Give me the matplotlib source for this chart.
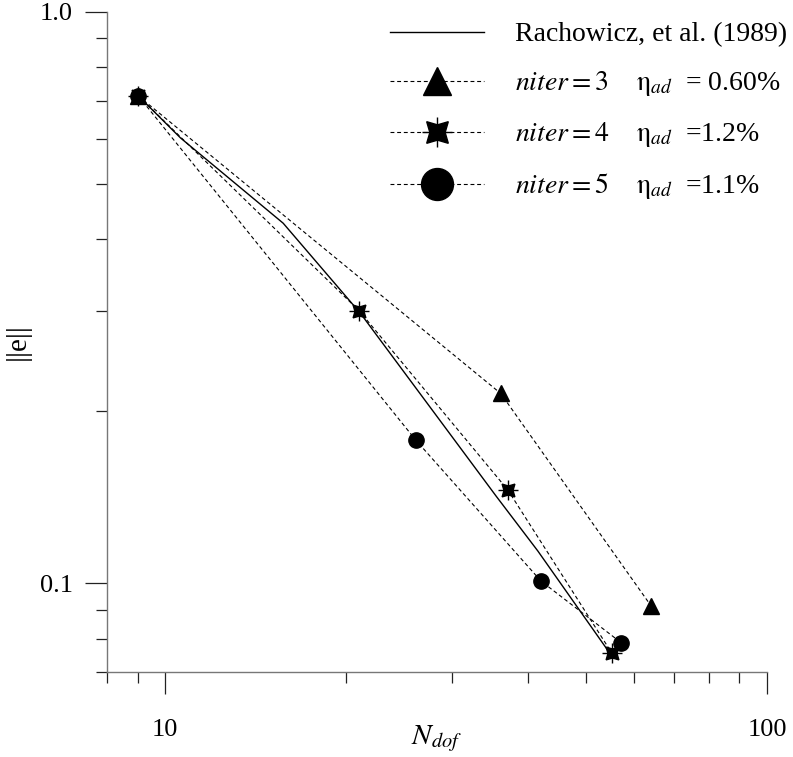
import matplotlib
matplotlib.use("Agg")
import matplotlib.pyplot as plt
from matplotlib.lines import Line2D
from matplotlib.ticker import FixedLocator, NullFormatter

plt.rcParams['font.family'] = ['Liberation Serif', 'DejaVu Serif']
plt.rcParams['mathtext.fontset'] = 'stix'

# ---- data ----
rach_x = [9.02, 10.6, 15.7, 21.1, 35.5, 41.6, 54.8]
rach_y = [0.713, 0.602, 0.427, 0.297, 0.142, 0.114, 0.0755]

n3_x = [9.02, 36.1, 64.2]
n3_y = [0.713, 0.215, 0.0913]

n4_x = [9.02, 21.0, 37.1, 55.2]
n4_y = [0.713, 0.300, 0.1457, 0.0756]

n5_x = [9.02, 26.1, 42.1, 57.2]
n5_y = [0.713, 0.178, 0.101, 0.0788]

x_major = [10, 100]
x_major_labels = ["10", "100"]
x_minor = [8, 9, 20, 30, 40, 50, 60, 70, 80, 90]
y_major = [0.1, 1.0]
y_major_labels = ["0.1", "1.0"]
y_minor = [0.07, 0.08, 0.09, 0.2, 0.3, 0.4, 0.5, 0.6, 0.7, 0.8, 0.9]

labels = ["Rachowicz, et al. (1989)",
          r"$niter = 3$    $\mathrm{\eta}_{ad}$  = 0.60%",
          r"$niter = 4$    $\mathrm{\eta}_{ad}$  =1.2%",
          r"$niter = 5$    $\mathrm{\eta}_{ad}$  =1.1%"]

fig = plt.figure(figsize=(7.93, 7.57), dpi=100)
ax = fig.add_axes([107/793, 1-672/757, 660/793, 660/757])

dash = (0, (3.5, 2.5))
lwd = 0.8
ax.plot(rach_x, rach_y, color='k', lw=1.0, zorder=2)
ax.plot(n3_x, n3_y, color='k', ls=dash, lw=lwd, marker='^', ms=11.5, zorder=3)
ax.plot(n5_x, n5_y, color='k', ls=dash, lw=lwd, marker='o', ms=11, zorder=3)
ax.plot(n4_x, n4_y, color='k', ls=dash, lw=lwd, marker=(4, 1, 45), ms=13, zorder=4)
ax.plot(n4_x, n4_y, color='k', ls='none', marker='+', ms=15, mew=1.0, zorder=4)

ax.set_xscale('log')
ax.set_yscale('log')
ax.set_xlim(8, 100)
ax.set_ylim(0.07, 1.0)

ax.xaxis.set_major_locator(FixedLocator(x_major))
ax.xaxis.set_minor_locator(FixedLocator(x_minor))
ax.set_xticklabels(x_major_labels)
ax.xaxis.set_minor_formatter(NullFormatter())
ax.yaxis.set_major_locator(FixedLocator(y_major))
ax.yaxis.set_minor_locator(FixedLocator(y_minor))
ax.set_yticklabels(y_major_labels)
ax.yaxis.set_minor_formatter(NullFormatter())

ax.tick_params(which='major', length=15.5, width=0.9, color='#222222',
               labelsize=19, pad=9)
ax.tick_params(which='minor', length=8, width=0.9, color='#222222')
ax.tick_params(axis='x', which='major', pad=18)

for s in ['top', 'right']:
    ax.spines[s].set_visible(False)
for s in ['left', 'bottom']:
    ax.spines[s].set_color('#777777')
    ax.spines[s].set_linewidth(1.0)

ax.set_xlabel(r"$N_{dof}$", fontsize=21)
ax.set_ylabel("||e||", fontsize=21)
ax.xaxis.set_label_coords(0.5, -0.078)
ax.yaxis.set_label_coords(-0.115, 0.5)

h0 = Line2D([], [], color='k', lw=1.0)
h3 = Line2D([], [], color='k', ls=dash, lw=lwd, marker='^', ms=20)
h4a = Line2D([], [], color='k', ls=dash, lw=lwd, marker=(4, 1, 45), ms=22)
h4b = Line2D([], [], color='k', ls='none', marker='+', ms=21, mew=1.0)
h5 = Line2D([], [], color='k', ls=dash, lw=lwd, marker='o', ms=23)

leg = ax.legend([h0, h3, (h4a, h4b), h5], labels, loc='upper left',
                bbox_to_anchor=(390/793, 1 - 22/757), bbox_transform=fig.transFigure,
                frameon=False, borderpad=0, borderaxespad=0,
                handlelength=3.4, handletextpad=1.1, labelspacing=0.79,
                fontsize=20)

fig.savefig("out.png", dpi=100)
